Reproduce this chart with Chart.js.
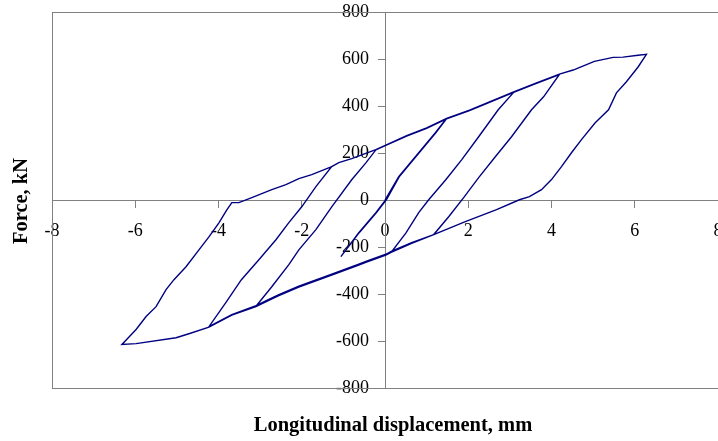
<!DOCTYPE html>
<html>
<head>
<meta charset="utf-8">
<script src="https://cdn.jsdelivr.net/npm/chart.js@4.4.1/dist/chart.umd.min.js"></script>
<style>
  body { margin: 0; background: #fff; }
  canvas { display: block; }
</style>
</head>
<body>
<canvas id="loopChart" width="718" height="441"></canvas>
<script>
// Displacement (mm) and force (kN), one array pair per loading cycle
const cycle1X = [0, 0.33, 0.81, 1.21, 1.48, 1.23, 0.83, 0.35, 0.04, -0.2, -0.61, -1.06];
const cycle1F = [0, 99, 201, 286, 347, 288, 203, 101, 3, -52, -137, -241];

const cycle2X = [-0.63, -0.22, 0.02, 0.33, 0.81, 1.21, 1.48, 2.03, 2.51, 3.09, 2.72, 2.25, 1.84, 1.46, 1.05, 0.81, 0.5, 0.16,
  0.02, -0.46, -0.63, -1.28, -2.07, -2.55, -2.79, -3.1, -2.72, -2.31, -2.07, -1.66, -1.28, -0.8, -0.46, -0.22];
const cycle2F = [-139, -54, 1, 99, 201, 286, 347, 380, 415, 458, 384, 269, 171, 86, 1, -54, -141, -220,
  -233, -263, -275, -318, -369, -405, -425, -452, -369, -275, -212, -126, -29, 86, 158, 213];

const cycle3X = [0.02, 0.52, 1.0, 1.48, 2.03, 2.51, 3.09, 3.64, 4.19, 3.81, 3.52, 3.04, 2.65, 2.25, 1.89, 1.53, 1.17, 0.64,
  0.16, 0.02, -0.46, -0.63, -1.28, -2.07, -2.55, -2.79, -3.1, -3.68, -4.23, -3.82, -3.45, -3.03, -2.62, -2.31, -2.0, -1.66, -1.28];
const cycle3F = [232, 272, 305, 345, 380, 415, 458, 496, 534, 439, 384, 269, 184, 95, 10, -71, -147, -182,
  -218, -231, -261, -273, -316, -367, -403, -423, -450, -488, -539, -436, -339, -254, -169, -96, -29, 57, 142];

const cycle4X = [-1.11, -0.8, -0.22, 0.02, 0.52, 1.0, 1.48, 2.03, 2.51, 3.09, 3.64, 4.19, 4.52, 5.03, 5.48, 5.72, 6.08, 6.28,
  6.08, 5.8, 5.56, 5.37, 5.05, 4.72, 4.48, 4.24, 4.0, 3.76, 3.47, 3.23, 2.68, 1.93, 1.17, 0.64, 0.16, 0.02, -0.46, -0.63,
  -1.28, -2.07, -2.55, -2.79, -3.1, -3.68, -4.23, -4.71, -5.02, -5.98, -6.32,
  -5.98, -5.74, -5.5, -5.26, -5.07, -4.78, -4.47, -4.23, -3.99, -3.8, -3.68, -3.51, -3.2, -2.72, -2.38, -2.07, -1.76, -1.28];
const cycle4F = [159, 176, 214, 234, 274, 307, 347, 382, 417, 460, 498, 536, 553, 590, 607, 608, 616, 620,
  566, 503, 456, 384, 329, 257, 201, 142, 87, 44, 14, 1, -41, -92, -147, -184, -222, -235, -265, -277,
  -320, -371, -407, -427, -454, -490, -541, -569, -586, -611, -615,
  -551, -496, -454, -381, -339, -284, -212, -157, -97, -42, -11, -11, 10, 44, 65, 91, 108, 142];

const xTicks = [-8, -6, -4, -2, 0, 2, 4, 6, 8];
const yTicks = [-800, -600, -400, -200, 0, 200, 400, 600, 800];

const xTitle = "Longitudinal displacement, mm";
const yTitle = "Force, kN";

const GREY = "#808080";
const NAVY = "#000080";
const SERIF = "'Liberation Serif', 'Times New Roman', serif";

function toPoints(xs, fs) {
  return xs.map((x, i) => ({ x: x, y: fs[i] }));
}

const loopPoints = [].concat(
  toPoints(cycle1X, cycle1F),
  toPoints(cycle2X, cycle2F),
  toPoints(cycle3X, cycle3F),
  toPoints(cycle4X, cycle4F)
);

// centred axes should not eat into the layout
function noSpaceX(scale) {
  scale.height = 0;
  scale.paddingLeft = 0;
  scale.paddingRight = 0;
  scale.paddingTop = 0;
  scale.paddingBottom = 0;
}
function noSpaceY(scale) {
  scale.width = 0;
  scale.paddingLeft = 0;
  scale.paddingRight = 0;
  scale.paddingTop = 0;
  scale.paddingBottom = 0;
}

// frame around the plot area plus the two axis titles
const framePlugin = {
  id: "frame",
  beforeDatasetsDraw(chart) {
    const { ctx, chartArea: a } = chart;
    ctx.save();
    ctx.strokeStyle = GREY;
    ctx.lineWidth = 1;
    ctx.strokeRect(a.left + 0.5, a.top + 0.5, a.right - a.left, a.bottom - a.top);
    ctx.restore();
  },
  afterDraw(chart) {
    const { ctx } = chart;
    ctx.save();
    ctx.fillStyle = "#000";
    ctx.font = "bold 20.5px " + SERIF;
    ctx.textAlign = "center";
    ctx.textBaseline = "middle";
    ctx.fillText(xTitle, 393, 426);
    ctx.translate(22, 201);
    ctx.rotate(-Math.PI / 2);
    ctx.fillText(yTitle, 0, 0);
    ctx.restore();
  }
};

new Chart(document.getElementById("loopChart"), {
  type: "scatter",
  data: {
    datasets: [
      {
        data: loopPoints,
        showLine: true,
        borderColor: NAVY,
        borderWidth: 1.4,
        pointRadius: 0,
        tension: 0,
        fill: false
      }
    ]
  },
  options: {
    responsive: false,
    animation: false,
    layout: { padding: { left: 52, top: 12, right: -2, bottom: 53 } },
    plugins: {
      legend: { display: false },
      tooltip: { enabled: false }
    },
    scales: {
      x: {
        type: "linear",
        position: "center",
        min: -8,
        max: 8,
        afterFit: noSpaceX,
        afterBuildTicks(scale) { scale.ticks = xTicks.map((v) => ({ value: v })); },
        grid: { drawOnChartArea: false, drawTicks: true, tickLength: 7, color: GREY },
        border: { color: GREY },
        ticks: { color: "#000", font: { family: SERIF, size: 18 }, padding: 13, maxRotation: 0, autoSkip: false }
      },
      y: {
        type: "linear",
        position: "center",
        min: -800,
        max: 800,
        afterFit: noSpaceY,
        afterBuildTicks(scale) { scale.ticks = yTicks.map((v) => ({ value: v })); },
        grid: { drawOnChartArea: false, drawTicks: true, tickLength: 7, color: GREY },
        border: { color: GREY },
        ticks: { color: "#000", font: { family: SERIF, size: 18 }, padding: 9, autoSkip: false }
      }
    }
  },
  plugins: [framePlugin]
});
</script>
</body>
</html>
